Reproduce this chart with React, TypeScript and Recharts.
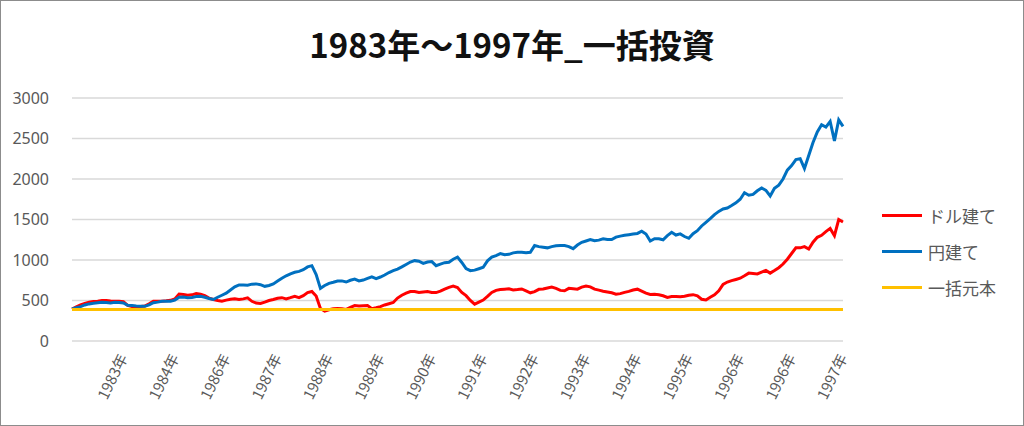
import { LineChart, Line, XAxis, YAxis, CartesianGrid, Legend } from 'recharts'

// 月ごとの評価額 (1983年初〜1997年末, 181点)
const YEN = [
  395, 410, 425, 445, 458, 465, 472, 478, 475, 470,
  478, 475, 470, 440, 438, 432, 430, 428, 445, 472,
  480, 490, 492, 490, 505, 540, 542, 535, 538, 548,
  552, 540, 525, 512, 540, 565, 590, 630, 668, 692,
  690, 688, 702, 705, 695, 675, 685, 705, 740, 775,
  805, 830, 848, 860, 880, 915, 930, 820, 650, 685,
  712, 725, 740, 742, 728, 750, 765, 742, 752, 772,
  792, 770, 790, 815, 845, 868, 888, 915, 945, 975,
  992, 985, 958, 975, 980, 930, 950, 967, 972, 1010,
  1035, 970, 895, 868, 875, 892, 910, 990, 1035, 1055,
  1080, 1065, 1070, 1088, 1095, 1095, 1090, 1095, 1178, 1165,
  1158, 1150, 1165, 1175, 1180, 1178, 1165, 1140, 1185, 1218,
  1235, 1252, 1238, 1245, 1262, 1252, 1252, 1282, 1295, 1305,
  1312, 1320, 1328, 1355, 1320, 1235, 1262, 1262, 1250, 1300,
  1342, 1308, 1322, 1290, 1268, 1325, 1362, 1420, 1465, 1510,
  1560, 1600, 1630, 1642, 1672, 1705, 1750, 1830, 1800, 1810,
  1855, 1890, 1860, 1790, 1885, 1925, 2000, 2110, 2165, 2240,
  2250, 2130, 2290, 2450, 2580, 2670, 2640, 2710, 2470, 2730,
  2650,
]

const DOLLAR = [
  395, 420, 445, 465, 480, 488, 492, 500, 500, 494,
  492, 492, 486, 440, 425, 422, 426, 432, 460, 490,
  492, 492, 496, 502, 520, 580, 575, 565, 570, 585,
  578, 560, 530, 512, 500, 492, 505, 515, 520, 512,
  520, 532, 490, 468, 463, 480, 500, 512, 528, 535,
  520, 535, 552, 535, 560, 598, 612, 555, 400, 370,
  385, 398, 402, 398, 390, 415, 438, 432, 435, 438,
  400, 410, 425, 445, 460, 475, 530, 565, 590, 610,
  612, 598, 605, 612, 600, 598, 615, 640, 662, 677,
  660, 600, 560, 500, 455, 480, 505, 550, 600, 625,
  636, 640, 644, 630, 635, 642, 618, 595, 610, 638,
  642, 655, 665, 650, 625, 620, 650, 645, 640, 665,
  678, 668, 640, 628, 615, 605, 595, 578, 585, 600,
  612, 630, 640, 615, 590, 574, 576, 570, 558, 538,
  548, 550, 545, 552, 565, 572, 558, 515, 506, 540,
  570, 620, 700, 728, 745, 760, 775, 805, 838, 833,
  828, 850, 872, 838, 870, 905, 950, 1010, 1080, 1150,
  1150, 1165, 1135, 1220, 1280, 1305, 1350, 1390, 1300, 1500,
  1470,
]

const PRINCIPAL = 390

const SERIES_NAMES = ['ドル建て', '円建て', '一括元本']

const TICK_POSITIONS = [12, 24, 36, 48, 60, 72, 84, 96, 108, 120, 132, 144, 156, 168, 180]
const TICK_LABELS = [
  '1983年', '1984年', '1986年', '1987年', '1988年', '1989年', '1990年', '1991年',
  '1992年', '1993年', '1994年', '1995年', '1996年', '1996年', '1997年',
]
const Y_TICKS = [0, 500, 1000, 1500, 2000, 2500, 3000]

const JP_FONT = "'Noto Sans CJK JP', 'Noto Sans', sans-serif"
const GRAY = '#595959'

const rows = YEN.map((v, i) => ({ idx: i, dollar: DOLLAR[i], yen: v, principal: PRINCIPAL }))

function XTick({ x, y, payload }: any) {
  const label = TICK_LABELS[TICK_POSITIONS.indexOf(payload.value)]
  return (
    <g transform={`translate(${x},${y + 6})`}>
      <text
        transform="rotate(-64)"
        textAnchor="end"
        dy="0.35em"
        fill={GRAY}
        fontSize={15}
        fontFamily={JP_FONT}
      >
        {label}
      </text>
    </g>
  )
}

function LegendBox({ payload }: any) {
  const items = [...(payload ?? [])].sort(
    (a: any, b: any) => SERIES_NAMES.indexOf(a.value) - SERIES_NAMES.indexOf(b.value)
  )
  return (
    <div style={{ fontFamily: JP_FONT, fontSize: 17, color: GRAY }}>
      {items.map((p: any) => (
        <div key={p.value} style={{ display: 'flex', alignItems: 'center', height: 36 }}>
          <span style={{ display: 'inline-block', width: 40, height: 3, background: p.color, marginRight: 6 }} />
          <span>{p.value}</span>
        </div>
      ))}
    </div>
  )
}

export default function App() {
  return (
    <div
      style={{
        position: 'relative',
        width: 1024,
        height: 426,
        boxSizing: 'border-box',
        border: '1px solid #8c8c8c',
        background: '#fff',
      }}
    >
      <style>{'body{margin:0}'}</style>
      <div
        style={{
          position: 'absolute',
          top: 27,
          left: 0,
          width: '100%',
          textAlign: 'center',
          fontFamily: JP_FONT,
          fontWeight: 700,
          fontSize: 33,
          lineHeight: '33px',
          color: '#111',
        }}
      >
        1983年～1997年_一括投資
      </div>
      <LineChart width={1022} height={424} data={rows} margin={{ top: 97, right: 180, bottom: 14, left: 0 }}>
        <CartesianGrid vertical={false} stroke="#d9d9d9" strokeWidth={1.5} />
        <XAxis
          type="number"
          dataKey="idx"
          domain={[0, 180]}
          ticks={TICK_POSITIONS}
          interval={0}
          tick={<XTick />}
          tickLine={false}
          axisLine={false}
          height={70}
        />
        <YAxis
          domain={[0, 3000]}
          ticks={Y_TICKS}
          width={71}
          tickLine={false}
          axisLine={false}
          tickMargin={17}
          tick={{ fill: GRAY, fontSize: 16, fontFamily: "'Noto Sans', sans-serif" }}
        />
        <Legend
          layout="vertical"
          align="center"
          verticalAlign="middle"
          content={<LegendBox />}
          wrapperStyle={{ left: 881, top: 196, width: 140 }}
        />
        <Line name={SERIES_NAMES[0]} dataKey="dollar" stroke="#ff0000" strokeWidth={3} dot={false} activeDot={false} isAnimationActive={false} />
        <Line name={SERIES_NAMES[1]} dataKey="yen" stroke="#0070c0" strokeWidth={3} dot={false} activeDot={false} isAnimationActive={false} />
        <Line name={SERIES_NAMES[2]} dataKey="principal" stroke="#ffc000" strokeWidth={3} dot={false} activeDot={false} isAnimationActive={false} />
      </LineChart>
    </div>
  )
}
